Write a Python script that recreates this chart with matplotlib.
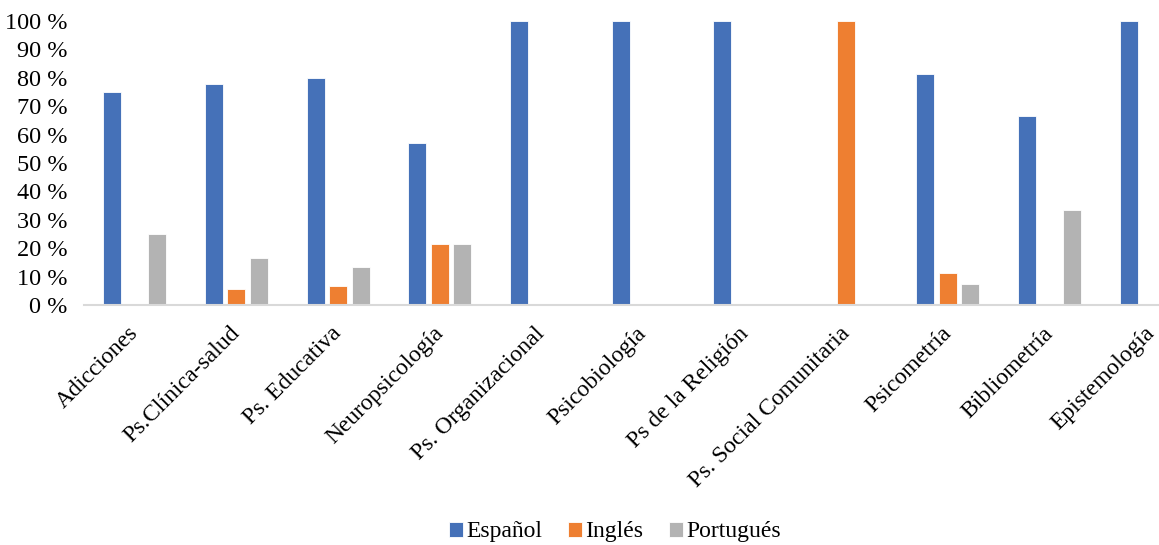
import numpy as np
import matplotlib.pyplot as plt
import matplotlib.transforms as mtransforms

plt.rcParams['font.family'] = ['Liberation Serif', 'DejaVu Serif']

categorias = ['Adicciones', 'Ps.Clínica-salud', 'Ps. Educativa', 'Neuropsicología',
              'Ps. Organizacional', 'Psicobiología', 'Ps de la Religión',
              'Ps. Social Comunitaria', 'Psicometría', 'Bibliometría', 'Epistemología']
espanol = [75, 77.8, 80, 57.1, 100, 100, 100, 0, 81.5, 66.7, 100]
ingles = [0, 5.6, 6.7, 21.4, 0, 0, 0, 100, 11.1, 0, 0]
portugues = [25, 16.7, 13.3, 21.4, 0, 0, 0, 0, 7.4, 33.3, 0]

fig = plt.figure(figsize=(11.59, 5.45), dpi=100)
# the plot area runs a little past the right edge of the image, as in the original
ax = fig.add_axes([0.0725, 0.4404, 0.9646, 0.5211])

x = np.arange(len(categorias))
w = 0.177
d = 0.221
ax.bar(x - d, espanol, w, color='#4571B8', edgecolor='white', linewidth=0.6, label='Español')
ax.bar(x, ingles, w, color='#EE7F31', edgecolor='white', linewidth=0.6, label='Inglés')
ax.bar(x + d, portugues, w, color='#B3B3B3', edgecolor='white', linewidth=0.6, label='Portugués')

ax.set_xlim(-0.5, len(categorias) - 0.5)
ax.set_ylim(0, 100)
ax.set_yticks(range(0, 101, 10))
ax.set_yticklabels([f'{v} %' for v in range(0, 101, 10)], fontsize=17.5)
ax.set_xticks(x)
ax.set_xticklabels(categorias, rotation=45, ha='right', rotation_mode='anchor', fontsize=17)
ax.tick_params(axis='y', length=0, pad=12)
ax.tick_params(axis='x', length=0, pad=10)
# nudge the slanted labels a bit left/down
shift = mtransforms.ScaledTranslation(-0.07, -0.04, fig.dpi_scale_trans)
for lbl in ax.get_xticklabels():
    lbl.set_transform(lbl.get_transform() + shift)
for s in ['top', 'right', 'left']:
    ax.spines[s].set_visible(False)
ax.spines['bottom'].set_color('#D9D9D9')
ax.spines['bottom'].set_linewidth(1.5)

ax.legend(loc='center', bbox_to_anchor=(0.5306, 0.024), bbox_transform=fig.transFigure,
          ncol=3, frameon=False, fontsize=17, handlelength=0.6, handleheight=0.6,
          handletextpad=0.13, columnspacing=1.1)

fig.savefig('out.png', dpi=100)
